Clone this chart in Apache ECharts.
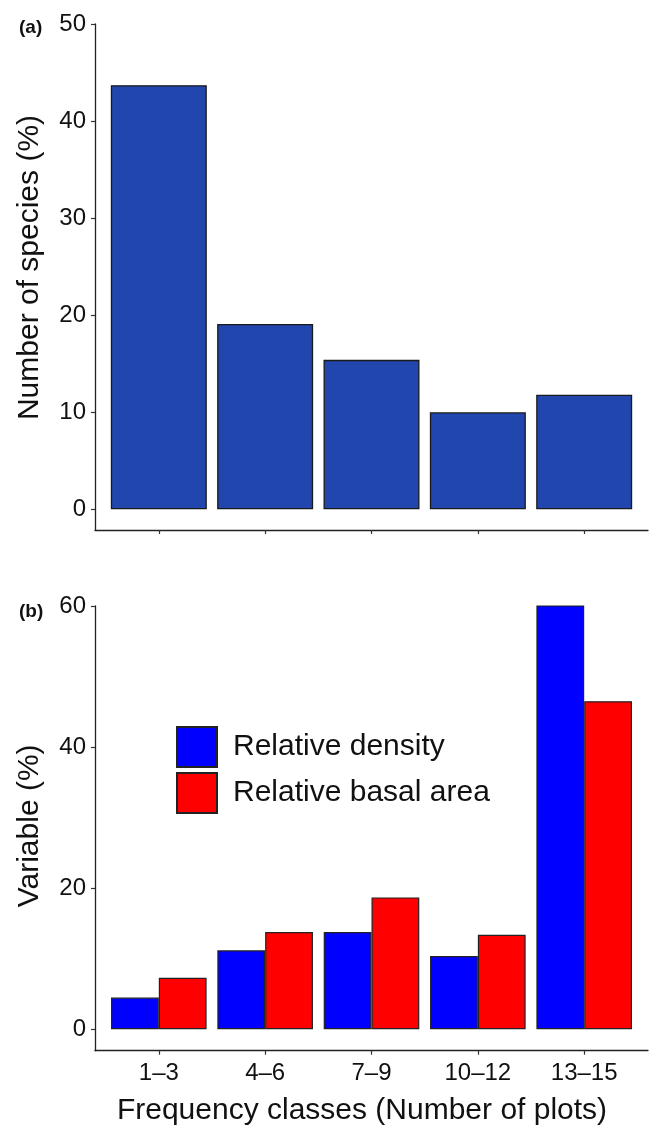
<!DOCTYPE html>
<html lang="en">
	<head>
		<meta charset="UTF-8" />
		<title>Frequency classes</title>
		<script src="https://cdn.jsdelivr.net/npm/echarts@6/dist/echarts.min.js"></script>
		<style>
			* {
				margin: 0;
				padding: 0;
			}
			html,
			body {
				height: 100%;
				background: #fff;
			}
		</style>
	</head>
	<body>
		<div id="main" style="width:650px;height:1128px;"></div>

		<script type="text/javascript">
			// 数据
			var classes = ["1–3", "4–6", "7–9", "10–12", "13–15"];
			var speciesPct = [43.7, 19.1, 15.4, 10.0, 11.8]; // (a)
			var relDensity = [4.5, 11.2, 13.8, 10.4, 60.1]; // (b) 蓝
			var relBasal = [7.3, 13.8, 18.7, 13.4, 46.5]; // (b) 红
			var ticksA = [0, 10, 20, 30, 40, 50];
			var ticksB = [0, 20, 40, 60];
			var classPos = [1, 2, 3, 4, 5];

			var font = "Liberation Sans, Arial, sans-serif";
			var ink = "#111";

			function pairs(vals) {
				return vals.map(function(v, i) {
					return [classPos[i], v];
				});
			}

			function xAxisOf(grid, showLabel, name) {
				return {
					type: "value",
					gridIndex: grid,
					min: 0.4,
					max: 5.6,
					splitLine: { show: false },
					axisLine: { onZero: false, lineStyle: { color: "#222", width: 1.3 } },
					axisTick: { customValues: classPos, length: 4, lineStyle: { color: "#333", width: 1.2 } },
					axisLabel: {
						show: showLabel,
						customValues: classPos,
						margin: 11,
						fontSize: 24,
						fontFamily: font,
						color: ink,
						formatter: function(v) {
							return classes[Math.round(v) - 1];
						}
					},
					name: name,
					nameLocation: "middle",
					nameGap: 45,
					nameTextStyle: { fontSize: 30, fontFamily: font, color: ink, padding: [0, 19, 0, 0] }
				};
			}

			function yAxisOf(grid, min, max, ticks, name, shift) {
				return {
					type: "value",
					gridIndex: grid,
					min: min,
					max: max,
					splitLine: { show: false },
					axisLine: { show: true, onZero: false, lineStyle: { color: "#222", width: 1.3 } },
					axisTick: { show: true, customValues: ticks, length: 4, lineStyle: { color: "#333", width: 1.2 } },
					axisLabel: { customValues: ticks, margin: 9, fontSize: 24, fontFamily: font, color: ink },
					name: name,
					nameLocation: "middle",
					nameGap: 50,
					nameTextStyle: { fontSize: 30, fontFamily: font, color: ink, padding: [0, 0, 0, shift] }
				};
			}

			var option = {
				animation: false,
				backgroundColor: "#fff",
				title: [
					{ text: "(a)", left: 14, top: 13, textStyle: { fontSize: 19, fontWeight: "bold", fontFamily: font, color: ink } },
					{ text: "(b)", left: 14, top: 597, textStyle: { fontSize: 19, fontWeight: "bold", fontFamily: font, color: ink } }
				],
				grid: [
					{ left: 95, right: 2, top: 24, bottom: 598, outerBoundsMode: "none" },
					{ left: 95, right: 2, top: 606, bottom: 77.3, outerBoundsMode: "none" }
				],
				legend: {
					data: ["Relative density", "Relative basal area"],
					orient: "vertical",
					left: 171,
					top: 721,
					itemWidth: 40,
					itemHeight: 40,
					itemGap: 4,
					icon: "rect",
					textStyle: { fontSize: 30, fontFamily: font, color: ink, padding: [0, 0, 0, 11] }
				},
				xAxis: [xAxisOf(0, false, ""), xAxisOf(1, true, "Frequency classes (Number of plots)")],
				yAxis: [
					yAxisOf(0, -2.13, 50, ticksA, "Number of species (%)", 19),
					yAxisOf(1, -3.03, 60, ticksB, "Variable (%)", 5)
				],
				series: [
					{
						type: "bar",
						xAxisIndex: 0,
						yAxisIndex: 0,
						barWidth: 96,
						data: pairs(speciesPct),
						itemStyle: { color: "#2146AD", borderColor: "#1a1a1a", borderWidth: 1.3 }
					},
					{
						name: "Relative density",
						type: "bar",
						xAxisIndex: 1,
						yAxisIndex: 1,
						barWidth: 47.8,
						barGap: "0%",
						data: pairs(relDensity),
						itemStyle: { color: "#0000FF", borderColor: "#222", borderWidth: 1.2 }
					},
					{
						name: "Relative basal area",
						type: "bar",
						xAxisIndex: 1,
						yAxisIndex: 1,
						barWidth: 47.8,
						barGap: "0%",
						data: pairs(relBasal),
						itemStyle: { color: "#FF0000", borderColor: "#222", borderWidth: 1.2 }
					}
				]
			};

			var myChart = echarts.init(document.getElementById("main"));
			myChart.setOption(option);
		</script>
	</body>
</html>
